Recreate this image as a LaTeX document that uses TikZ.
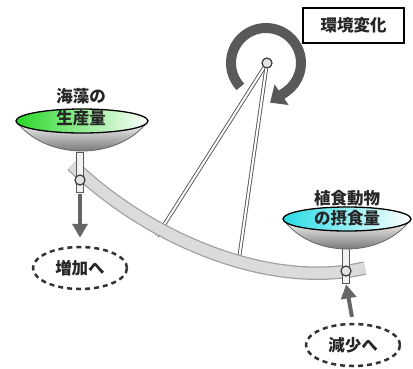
\documentclass[tikz,border=0pt]{standalone}
\usepackage{fontspec}
\newfontfamily\jp{Noto Sans CJK JP}
\usetikzlibrary{arrows.meta,shapes.geometric}

\definecolor{algae}{RGB}{40,215,40}
\definecolor{grazer}{RGB}{40,220,230}

% bowl with a coloured top: centre x, centre y, x radius, colour
\newcommand\dishat[4]{%
  \shade[top color=white, bottom color=black!70, draw=black!60, line width=.8pt]
    (#1-#3,#2) .. controls (#1-0.55*#3,#2+40) and (#1+0.55*#3,#2+40) .. (#1+#3,#2) -- cycle;
  \shade[left color=#4, right color=white, draw=black, line width=1.3pt]
    (#1,#2) ellipse [x radius=#3, y radius=12];
}

\tikzset{
  label/.style={font=\jp\bfseries\fontsize{16.5}{18}\selectfont, text=black!85, inner sep=0pt},
  rod/.style={rectangle, fill=gray!10, draw=gray!70!black, line width=.8pt, inner sep=0pt},
  joint/.style={circle, inner sep=0pt, minimum size=10pt, fill=gray!20, draw=black!75, line width=1.3pt},
  string/.style={draw=gray!65!black, double=white, double distance=2pt, line width=.9pt},
  push/.style={-{Triangle[width=15pt,length=14pt]}, line width=4pt, draw=black!60},
  target/.style={ellipse, draw=black!80, line width=2.5pt, dash pattern=on 5pt off 4pt,
    minimum width=94pt, minimum height=42pt, inner sep=0pt,
    font=\jp\bfseries\fontsize{16.5}{18}\selectfont, text=black!85},
}

\begin{document}
\begin{tikzpicture}[x=1pt,y=-1pt]
 \useasboundingbox (0,0) rectangle (413,368);

 % turning arrow round the pivot
 \draw[line width=10pt, draw=black!65, -{Triangle[width=24pt,length=14pt]}]
   (266,63) ++(137:35) arc[start angle=137, end angle=415, radius=35] -- ++(-16,11);

 \node[joint] (pivot) at (267,63) {};
 \coordinate (hookL) at (157,236);
 \coordinate (hookR) at (238,266);
 \draw[string] (pivot) -- (hookL);
 \draw[string] (pivot) -- (hookR);

 % the bent beam
 \draw[line width=13.5pt, draw=gray!75] (72,165) .. controls (150,240) and (270,290) .. (365,268);
 \draw[line width=11pt, draw=gray!28] (72,165) .. controls (150,240) and (270,290) .. (365,268);

 % stems and joints
 \node[rod, minimum width=7pt, minimum height=40pt] (stemL) at (80,172) {};
 \node[rod, minimum width=7pt, minimum height=35pt] (stemR) at (346,265.5) {};
 \node[joint] (jointL) at (80,180) {};
 \node[joint] (jointR) at (346,271) {};

 % the two pans
 \dishat{82}{121}{66}{algae}
 \dishat{347}{219}{64}{grazer}

 \node[label] (algaeA) at (81,96.5) {海藻の};
 \node[label] (algaeB) at (81,118.5) {生産量};
 \node[label] (grazeA) at (347,198.5) {植食動物};
 \node[label] (grazeB) at (347,218.5) {の摂食量};

 \node[label, draw=black, line width=1.5pt, minimum width=101pt, minimum height=35pt, fill=white]
   (change) at (353.5,25.5) {環境変化};

 \node[target] (grow) at (80,268) {増加へ};
 \node[target] (shrink) at (353,345) {減少へ};
 \draw[push, shorten <=2pt, shorten >=8pt] (stemL.south) -- (grow.north);
 \draw[push, shorten <=6pt, shorten >=1pt] (shrink.north) -- (stemR.south);
\end{tikzpicture}
\end{document}
